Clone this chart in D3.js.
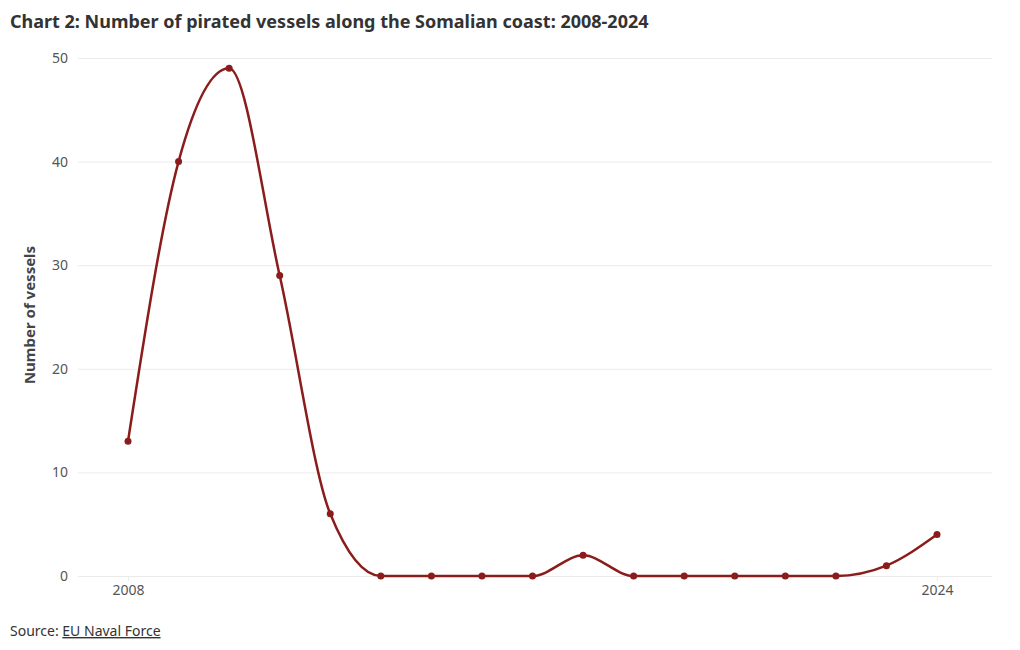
<!DOCTYPE html>
<html><head><meta charset="utf-8">
<script src="https://cdn.jsdelivr.net/npm/d3@7"></script>
<style>
body{margin:0;background:#fff;font-family:"Noto Sans",Roboto,sans-serif;}
</style></head>
<body><svg id="c" width="1020" height="650"></svg>
<script>
const years = [2008,2009,2010,2011,2012,2013,2014,2015,2016,2017,2018,2019,2020,2021,2022,2023,2024];
const vessels = [13,40,49,29,6,0,0,0,0,2,0,0,0,0,0,1,4];
const yTicks = [0,10,20,30,40,50];
const xTicks = [2008,2024];

const svg = d3.select("#c");
const x = d3.scaleLinear().domain([2008,2024]).range([128,937]);
const y = d3.scaleLinear().domain([0,50]).range([576,58]);
const gridX0 = 78, gridX1 = 992;
const font = '"Noto Sans",Roboto,sans-serif';

svg.append("text").attr("x",10).attr("y",28).attr("font-family",font)
  .attr("font-size",18).attr("font-weight",700).attr("fill","#333")
  .text("Chart 2: Number of pirated vessels along the Somalian coast: 2008-2024");

const gy = svg.append("g").attr("transform",`translate(${gridX0},0)`)
  .call(d3.axisLeft(y).tickValues(yTicks).tickSize(-(gridX1-gridX0)).tickPadding(10));
gy.select(".domain").remove();
gy.selectAll(".tick line").attr("stroke","#ebebeb");
gy.selectAll(".tick text").attr("font-family",font).attr("font-size",14).attr("fill","#555");

const gx = svg.append("g").attr("transform",`translate(0,${y(0)})`)
  .call(d3.axisBottom(x).tickValues(xTicks).tickFormat(d3.format("d")).tickSize(5).tickPadding(4));
gx.select(".domain").remove();
gx.selectAll(".tick line").attr("stroke","#ebebeb");
gx.selectAll(".tick text").attr("font-family",font).attr("font-size",14).attr("fill","#555");

svg.append("text").attr("transform","translate(35,315) rotate(-90)")
  .attr("text-anchor","middle").attr("font-family",font).attr("font-size",15)
  .attr("font-weight",700).attr("fill","#444").text("Number of vessels");

const data = years.map((d,i)=>({year:d,v:vessels[i]}));
svg.append("path").datum(data)
  .attr("d",d3.line().x(d=>x(d.year)).y(d=>y(d.v)).curve(d3.curveMonotoneX))
  .attr("fill","none").attr("stroke","#8b1c1c").attr("stroke-width",2.5);
svg.selectAll("circle.pt").data(data).join("circle").attr("class","pt")
  .attr("cx",d=>x(d.year)).attr("cy",d=>y(d.v)).attr("r",3.5).attr("fill","#8b1c1c");

const src = svg.append("text").attr("x",10).attr("y",636).attr("font-family",font)
  .attr("font-size",14).attr("fill","#333");
src.append("tspan").text("Source: ");
src.append("tspan").attr("text-decoration","underline").text("EU Naval Force");
</script></body></html>
